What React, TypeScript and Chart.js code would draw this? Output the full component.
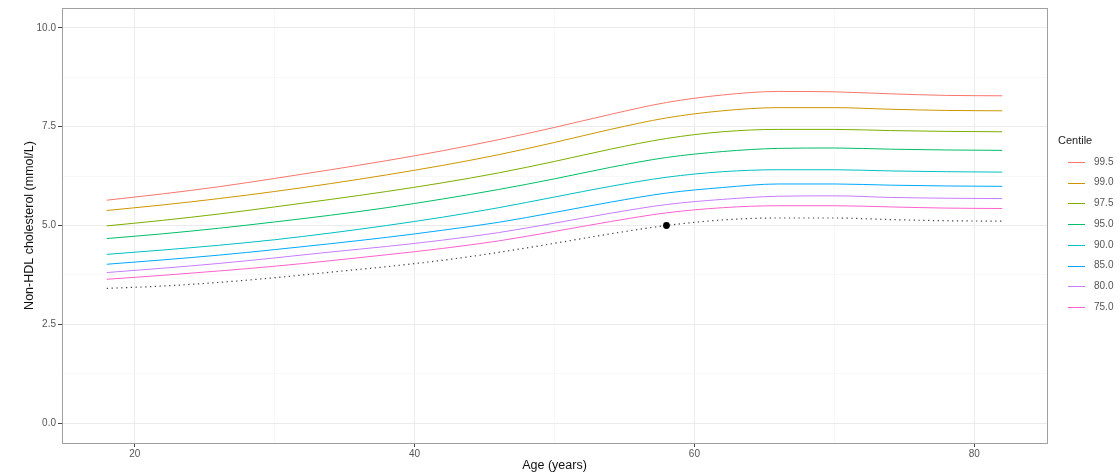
import React, { useEffect, useRef } from "react";
import { Chart, registerables } from "chart.js";

Chart.register(...registerables);

const ages = [18, 22, 26, 30, 34, 38, 42, 46, 50, 54, 58, 62, 66, 70, 74, 78, 82];

const centileLabels = ["99.5", "99.0", "97.5", "95.0", "90.0", "85.0", "80.0", "75.0"];

const c995 = [5.64, 5.8, 5.98, 6.19, 6.41, 6.64, 6.89, 7.17, 7.48, 7.81, 8.11, 8.3, 8.39, 8.38, 8.33, 8.29, 8.28];
const c990 = [5.38, 5.52, 5.68, 5.86, 6.06, 6.28, 6.52, 6.79, 7.1, 7.43, 7.72, 7.9, 7.98, 7.98, 7.94, 7.91, 7.9];
const c975 = [4.99, 5.13, 5.29, 5.47, 5.66, 5.86, 6.08, 6.33, 6.62, 6.93, 7.2, 7.37, 7.43, 7.43, 7.4, 7.38, 7.37];
const c950 = [4.67, 4.79, 4.93, 5.09, 5.26, 5.45, 5.67, 5.91, 6.18, 6.47, 6.72, 6.87, 6.95, 6.96, 6.93, 6.91, 6.9];
const c900 = [4.27, 4.38, 4.5, 4.64, 4.81, 5.0, 5.21, 5.45, 5.72, 5.99, 6.22, 6.36, 6.41, 6.41, 6.38, 6.36, 6.35];
const c850 = [4.02, 4.13, 4.25, 4.39, 4.54, 4.7, 4.88, 5.08, 5.33, 5.59, 5.82, 5.96, 6.05, 6.05, 6.02, 6.0, 5.99];
const c800 = [3.81, 3.92, 4.04, 4.18, 4.33, 4.47, 4.63, 4.82, 5.06, 5.31, 5.53, 5.66, 5.74, 5.75, 5.71, 5.69, 5.68];
const c750 = [3.64, 3.74, 3.85, 3.97, 4.11, 4.26, 4.42, 4.61, 4.85, 5.1, 5.32, 5.45, 5.5, 5.5, 5.47, 5.44, 5.43];

const patientTrack = [3.41, 3.47, 3.56, 3.68, 3.82, 3.96, 4.12, 4.32, 4.55, 4.79, 5.0, 5.14, 5.19, 5.19, 5.15, 5.12, 5.11];

const observedAge = [58];
const observedValue = [5.0];

const xMajorTicks = [20, 40, 60, 80];
const xMinorTicks = [30, 50, 70];
const yMajorTicks = [0, 2.5, 5, 7.5, 10];
const yMinorTicks = [1.25, 3.75, 6.25, 8.75];

const centileSeries = [c995, c990, c975, c950, c900, c850, c800, c750];
const centileColors = ["#F8766D", "#CD9600", "#7CAE00", "#00BE67", "#00BFC4", "#00A9FF", "#C77CFF", "#FF61CC"];

const FONT = "'Liberation Sans', Arial, sans-serif";

const isMajor = (list: number[], v: number) => list.some((m) => Math.abs(m - v) < 1e-9);

const panelPlugin = {
  id: "panelBorder",
  afterDraw(chart: any) {
    const { ctx, chartArea } = chart;
    ctx.save();
    ctx.strokeStyle = "#a0a0a0";
    ctx.lineWidth = 1;
    ctx.strokeRect(
      Math.round(chartArea.left) + 0.5,
      Math.round(chartArea.top) + 0.5,
      Math.round(chartArea.right - chartArea.left),
      Math.round(chartArea.bottom - chartArea.top)
    );
    ctx.restore();
  },
};

const legendPlugin = {
  id: "ggLegend",
  afterDraw(chart: any) {
    const { ctx } = chart;
    ctx.save();
    ctx.fillStyle = "#222";
    ctx.font = `11px ${FONT}`;
    ctx.textBaseline = "middle";
    ctx.textAlign = "left";
    ctx.fillText("Centile", 1058, 141);
    centileLabels.forEach((lab, i) => {
      const y = 162 + i * 20.7;
      ctx.strokeStyle = centileColors[i];
      ctx.lineWidth = 1;
      ctx.beginPath();
      ctx.moveTo(1068, Math.round(y) + 0.5);
      ctx.lineTo(1085, Math.round(y) + 0.5);
      ctx.stroke();
      ctx.fillStyle = "#555";
      ctx.font = `10px ${FONT}`;
      ctx.fillText(lab, 1094, y);
    });
    ctx.restore();
  },
};

export default function App() {
  const ref = useRef<HTMLCanvasElement | null>(null);

  useEffect(() => {
    document.body.style.margin = "0";
    const canvas = ref.current;
    if (!canvas) return;

    const datasets: any[] = [];
    datasets.push({
      label: "observed",
      data: observedAge.map((a, i) => ({ x: a, y: observedValue[i] })),
      showLine: false,
      pointRadius: 3.4,
      pointBackgroundColor: "#000",
      pointBorderColor: "#000",
      pointBorderWidth: 0,
    });
    datasets.push({
      label: "track",
      data: ages.map((a, i) => ({ x: a, y: patientTrack[i] })),
      borderColor: "#444",
      borderWidth: 1.2,
      borderDash: [1.3, 3.5],
      pointRadius: 0,
      cubicInterpolationMode: "monotone",
      fill: false,
    });
    centileSeries.forEach((s, k) => {
      datasets.push({
        label: centileLabels[k],
        data: ages.map((a, i) => ({ x: a, y: s[i] })),
        borderColor: centileColors[k],
        borderWidth: 1,
        pointRadius: 0,
        cubicInterpolationMode: "monotone",
        fill: false,
      });
    });

    const xAll = [...xMajorTicks, ...xMinorTicks].sort((a, b) => a - b);
    const yAll = [...yMajorTicks, ...yMinorTicks].sort((a, b) => a - b);

    const chart = new Chart(canvas, {
      type: "line",
      data: { datasets },
      plugins: [panelPlugin, legendPlugin],
      options: {
        animation: false,
        responsive: false,
        maintainAspectRatio: false,
        layout: { padding: { top: 7, right: 73, left: 0, bottom: 0 } },
        plugins: { legend: { display: false }, tooltip: { enabled: false } },
        scales: {
          x: {
            type: "linear",
            min: 14.8,
            max: 85.2,
            afterBuildTicks: (scale: any) => {
              scale.ticks = xAll.map((v) => ({ value: v }));
            },
            afterFit: (scale: any) => {
              scale.height = 33;
            },
            border: { display: false },
            grid: {
              color: (c: any) => (isMajor(xMajorTicks, c.tick?.value) ? "#ebebeb" : "#f5f5f5"),
              lineWidth: (c: any) => (isMajor(xMajorTicks, c.tick?.value) ? 1 : 0.7),
              tickColor: (c: any) => (isMajor(xMajorTicks, c.tick?.value) ? "#444" : "rgba(0,0,0,0)"),
              tickLength: 4,
              drawTicks: true,
            },
            ticks: {
              autoSkip: false,
              maxRotation: 0,
              padding: 1,
              color: "#555",
              font: { family: FONT, size: 10 },
              callback: (v: any) => (isMajor(xMajorTicks, Number(v)) ? String(v) : ""),
            },
            title: {
              display: true,
              text: "Age (years)",
              color: "#111",
              font: { family: FONT, size: 12.5 },
              padding: { top: 0, bottom: 3 },
            },
          },
          y: {
            type: "linear",
            min: -0.5,
            max: 10.5,
            afterBuildTicks: (scale: any) => {
              scale.ticks = yAll.map((v) => ({ value: v }));
            },
            afterFit: (scale: any) => {
              scale.width = 62;
            },
            border: { display: false },
            grid: {
              color: (c: any) => (isMajor(yMajorTicks, c.tick?.value) ? "#ebebeb" : "#f5f5f5"),
              lineWidth: (c: any) => (isMajor(yMajorTicks, c.tick?.value) ? 1 : 0.7),
              tickColor: (c: any) => (isMajor(yMajorTicks, c.tick?.value) ? "#444" : "rgba(0,0,0,0)"),
              tickLength: 4,
              drawTicks: true,
            },
            ticks: {
              autoSkip: false,
              padding: 2,
              color: "#555",
              font: { family: FONT, size: 10 },
              callback: (v: any) => (isMajor(yMajorTicks, Number(v)) ? Number(v).toFixed(1) : ""),
            },
            title: {
              display: true,
              text: "Non-HDL cholesterol (mmol/L)",
              color: "#111",
              font: { family: FONT, size: 12.5 },
              padding: { top: 22, bottom: 0 },
            },
          },
        },
      } as any,
    });

    return () => chart.destroy();
  }, []);

  return (
    <div style={{ position: "absolute", left: 0, top: 0, width: 1120, height: 476, background: "#fff" }}>
      <canvas ref={ref} width={1120} height={476} style={{ width: 1120, height: 476, display: "block" }} />
    </div>
  );
}
